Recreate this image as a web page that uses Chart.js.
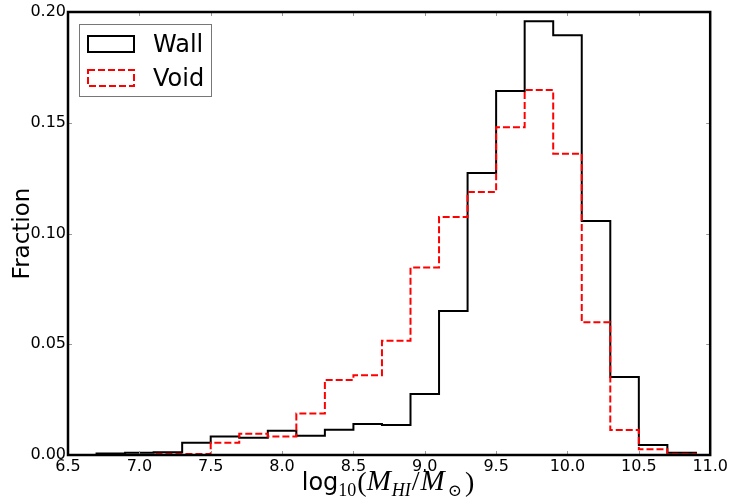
<!DOCTYPE html>
<html>
<head>
<meta charset="utf-8">
<script src="https://cdn.jsdelivr.net/npm/chart.js@4.4.0/dist/chart.umd.min.js"></script>
<style>
  html, body { margin: 0; padding: 0; background: #fff; }
  #wrap { width: 730px; height: 502px; }
</style>
</head>
<body>
<div id="wrap"><canvas id="chartHist"></canvas></div>
<script>
const binEdges = [6.7, 6.9, 7.1, 7.3, 7.5, 7.7, 7.9, 8.1, 8.3, 8.5, 8.7, 8.9,
  9.1, 9.3, 9.5, 9.7, 9.9, 10.1, 10.3, 10.5, 10.7, 10.9];
const wallFraction = [0.0007, 0.001, 0.0012, 0.0055, 0.0083, 0.0078, 0.011, 0.0087,
  0.0114, 0.014, 0.0135, 0.0275, 0.065, 0.1273, 0.1643, 0.1958, 0.1895, 0.1056,
  0.0352, 0.0045, 0.001];
const voidFraction = [0, 0, 0.0005, 0.0005, 0.0055, 0.0096, 0.0083, 0.0187,
  0.0339, 0.036, 0.0516, 0.0847, 0.1075, 0.1187, 0.148, 0.1648, 0.136, 0.0599,
  0.0113, 0.0026, 0.0005];
const xTicks = [6.5, 7.0, 7.5, 8.0, 8.5, 9.0, 9.5, 10.0, 10.5, 11.0];
const yTicks = [0, 0.05, 0.1, 0.15, 0.2];
const seriesLabels = ["Wall", "Void"];

const FONT = '"DejaVu Sans", sans-serif';
const MATH = '"Liberation Serif", "DejaVu Serif", serif';

// outline of a step histogram: up at the first edge, down at the last one
function stepPoints(values) {
  const pts = [{ x: binEdges[0], y: 0 }];
  values.forEach((v, i) => pts.push({ x: binEdges[i], y: v }));
  pts.push({ x: binEdges[binEdges.length - 1], y: 0 });
  return pts;
}

const framePlugin = {
  id: "frame",
  afterDraw(chart) {
    const ctx = chart.ctx;
    const a = chart.chartArea;
    const xs = chart.scales.x;
    const ys = chart.scales.y;
    ctx.save();

    // inward ticks on all four sides
    ctx.strokeStyle = "#999";
    ctx.lineWidth = 1;
    ctx.beginPath();
    xTicks.forEach((v) => {
      const px = Math.round(xs.getPixelForValue(v)) + 0.5;
      ctx.moveTo(px, a.bottom); ctx.lineTo(px, a.bottom - 4);
      ctx.moveTo(px, a.top); ctx.lineTo(px, a.top + 4);
    });
    yTicks.forEach((v) => {
      const py = Math.round(ys.getPixelForValue(v)) + 0.5;
      ctx.moveTo(a.left, py); ctx.lineTo(a.left + 4, py);
      ctx.moveTo(a.right, py); ctx.lineTo(a.right - 4, py);
    });
    ctx.stroke();

    // axes box
    ctx.strokeStyle = "#000";
    ctx.lineWidth = 2.5;
    ctx.strokeRect(a.left, a.top, a.right - a.left, a.bottom - a.top);

    // legend
    const lx = 79.5, ly = 24.5, lw = 132, lh = 72;
    ctx.fillStyle = "#fff";
    ctx.fillRect(lx, ly, lw, lh);
    ctx.strokeStyle = "#777";
    ctx.lineWidth = 1;
    ctx.strokeRect(lx, ly, lw, lh);
    chart.data.datasets.forEach((ds, i) => {
      const ry = 36 + i * 34;
      ctx.strokeStyle = ds.borderColor;
      ctx.lineWidth = 2;
      ctx.setLineDash(ds.borderDash || []);
      ctx.strokeRect(88, ry, 46, 16);
      ctx.setLineDash([]);
      ctx.fillStyle = "#000";
      ctx.font = "24px " + FONT;
      ctx.textBaseline = "alphabetic";
      ctx.textAlign = "left";
      ctx.fillText(seriesLabels[i], 153, ry + 16);
    });

    // x axis label with subscripts
    const parts = [
      { t: "log", f: "24px " + FONT, dy: 0, gap: 0 },
      { t: "10", f: "18px " + MATH, dy: 6, gap: 1 },
      { t: "(", f: "28px " + MATH, dy: 1, gap: 0 },
      { t: "M", f: "italic 29px " + MATH, dy: 0, gap: 1 },
      { t: "HI", f: "italic 18px " + MATH, dy: 6, gap: 1 },
      { t: "/", f: "28px " + MATH, dy: 0, gap: 1 },
      { t: "M", f: "italic 29px " + MATH, dy: 0, gap: 3 },
      { t: "\u2299", f: "17px " + MATH, dy: 6, gap: 3 },
      { t: ")", f: "28px " + MATH, dy: 1, gap: 0 },
    ];
    let total = 0;
    parts.forEach((p) => { ctx.font = p.f; p.w = ctx.measureText(p.t).width + p.gap; total += p.w; });
    let cx = 388 - total / 2;
    ctx.fillStyle = "#000";
    ctx.textAlign = "left";
    ctx.textBaseline = "alphabetic";
    parts.forEach((p) => {
      ctx.font = p.f;
      ctx.fillText(p.t, cx, 490 + p.dy);
      cx += p.w;
    });
    ctx.restore();
  },
};

new Chart(document.getElementById("chartHist"), {
  type: "line",
  data: {
    datasets: [
      {
        label: seriesLabels[0],
        data: stepPoints(wallFraction),
        borderColor: "#000000",
        borderWidth: 2,
        stepped: "before",
        pointRadius: 0,
        fill: false,
        order: 2,
      },
      {
        label: seriesLabels[1],
        data: stepPoints(voidFraction),
        borderColor: "#ff0000",
        borderWidth: 2,
        borderDash: [7, 3],
        stepped: "before",
        pointRadius: 0,
        fill: false,
        order: 1,
      },
    ],
  },
  plugins: [framePlugin],
  options: {
    responsive: true,
    maintainAspectRatio: false,
    animation: false,
    layout: { padding: { top: 12, right: 19, left: 0, bottom: 0 } },
    plugins: {
      legend: { display: false },
      tooltip: { enabled: false },
    },
    scales: {
      x: {
        type: "linear",
        min: 6.5,
        max: 11,
        afterBuildTicks: (s) => { s.ticks = xTicks.map((v) => ({ value: v })); },
        afterFit: (s) => { s.height = 47; },
        grid: { display: false, drawTicks: false },
        border: { display: false },
        ticks: {
          color: "#000",
          font: { family: FONT, size: 16 },
          padding: 2,
          maxRotation: 0,
          autoSkip: false,
          callback: (v) => Number(v).toFixed(1),
        },
      },
      y: {
        min: 0,
        max: 0.2,
        afterBuildTicks: (s) => { s.ticks = yTicks.map((v) => ({ value: v })); },
        afterFit: (s) => { s.width = 68; },
        grid: { display: false, drawTicks: false },
        border: { display: false },
        title: {
          display: true,
          text: "Fraction",
          color: "#000",
          font: { family: FONT, size: 23 },
          padding: { top: 9, bottom: 0 },
        },
        ticks: {
          color: "#000",
          font: { family: FONT, size: 16 },
          padding: 2,
          callback: (v) => Number(v).toFixed(2),
        },
      },
    },
  },
});
</script>
</body>
</html>
